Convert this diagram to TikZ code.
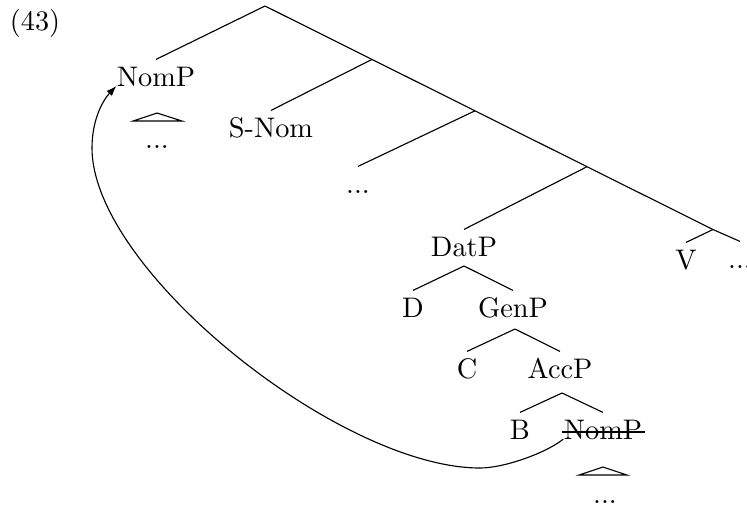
\documentclass[tikz,border=0pt]{standalone}
\usetikzlibrary{arrows.meta}
\begin{document}
\begin{tikzpicture}[x=0.3535pt,y=-0.3535pt,
  lbl/.style={inner sep=0pt, text height=9.2pt, anchor=base},
  branch/.style={line width=0.4pt},
  roof/.style={line width=0.4pt},
  movearrow/.style={line width=0.4pt,-{Latex[length=3.6pt,width=2.6pt]}}]
\useasboundingbox (0,0) rectangle (747,507);
% labels
\node[lbl] (ex) at (35,30) {(43)};
\coordinate (root) at (265,6);
\node[lbl] (nomA) at (156,86) {NomP};
\node[lbl] (dotsA) at (157,148) {...};
\node[lbl] (snom) at (271,137) {S-Nom};
\node[lbl] (mdots) at (358,193) {...};
\node[lbl] (datp) at (464,256) {DatP};
\node[lbl] (v) at (686,269) {V};
\node[lbl] (rdots) at (740,268) {...};
\node[lbl] (d) at (413,317) {D};
\node[lbl] (genp) at (513,317) {GenP};
\node[lbl] (c) at (467,378) {C};
\node[lbl] (accp) at (560,378) {AccP};
\node[lbl] (b) at (520,439) {B};
\node[lbl] (nomB) at (603,439) {NomP};
\node[lbl] (dotsB) at (605,503) {...};
% junctions
\coordinate (j1) at (372,59.4);
\coordinate (j2) at (475,110.8);
\coordinate (j3) at (587,166.7);
\coordinate (j4) at (713,229.5);
\coordinate (jDat) at (464,266);
\coordinate (jGen) at (515,329);
\coordinate (jAcc) at (562,393);
% branches
\draw[branch] (root) -- (nomA.north);
\draw[branch] (root) -- (j1) -- (j2) -- (j3) -- (j4) -- (rdots.north);
\draw[branch] (j1) -- (snom.north);
\draw[branch] (j2) -- (mdots.north);
\draw[branch] (j3) -- (datp.north);
\draw[branch] (j4) -- (v.north);
\draw[branch] (jDat) -- (d.north);
\draw[branch] (jDat) -- (genp.north);
\draw[branch] (jGen) -- (c.north);
\draw[branch] (jGen) -- (accp.north);
\draw[branch] (jAcc) -- (b.north);
\draw[branch] (jAcc) -- (nomB.north);
% roofs
\draw[roof] (157,113) -- (182,121) -- (133,121) -- cycle;
\draw[roof] (603,467) -- (627,475) -- (579,475) -- cycle;
% strike-through
\draw[line width=1pt] ([xshift=-0.5pt,yshift=2.5pt]nomB.base west) -- ([xshift=0.8pt,yshift=2.5pt]nomB.base east);
% movement arrow
\coordinate (w1) at (480,468);
\coordinate (w2) at (92,148);
\draw[movearrow] (nomB.base west) .. controls (548,452) and (505,468) .. (w1)
  .. controls (340,468) and (92,270) .. (w2)
  .. controls (92,118) and (104,99) .. (nomA.base west);
\end{tikzpicture}
\end{document}
